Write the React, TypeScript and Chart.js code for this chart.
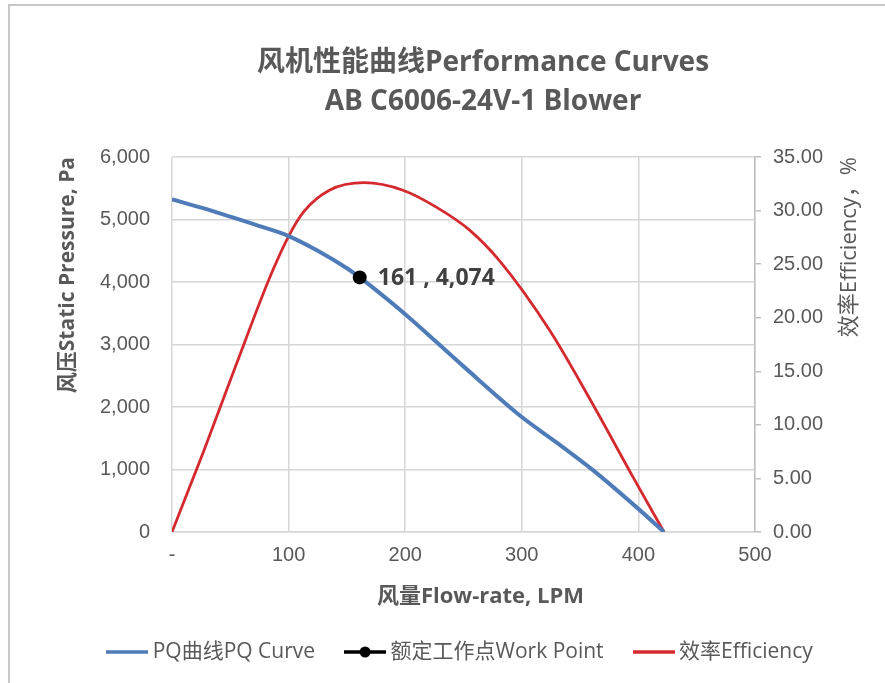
import React, { useEffect, useRef } from 'react';
import { Chart, registerables } from 'chart.js';

Chart.register(...registerables);

// ---- Data ----
const chartTitle = ['风机性能曲线Performance Curves', 'AB C6006-24V-1 Blower'];
const xAxisTitle = '风量Flow-rate, LPM';
const yAxisTitle = '风压Static Pressure, Pa';
const y1AxisTitle = '效率Efficiency，%';
const seriesNames = ['PQ曲线PQ Curve', '额定工作点Work Point', '效率Efficiency'];

const pqFlow = [0, 25, 50, 75, 100, 125, 150, 161, 175, 200, 250, 300, 330, 361, 400, 422];
const pqPressure = [5320, 5190, 5045, 4895, 4735, 4500, 4220, 4074, 3870, 3485, 2650, 1840, 1430, 990, 370, 0];

const effFlow = [0, 27, 55, 84, 100, 113, 135, 165, 198, 227, 255, 281, 324, 361, 396, 422];
const effValues = [0, 7.5, 15.6, 23.8, 27.6, 29.9, 31.9, 32.6, 31.9, 30.3, 28.2, 25.3, 18.8, 11.9, 5.0, 0];

const workFlow = [161];
const workPressure = [4074];

const xMin = 0, xMax = 500, xStep = 100;
const yMin = 0, yMax = 6000, yStep = 1000;
const y1Min = 0, y1Max = 35, y1Step = 5;

// ---- Styles ----
const BLUE = '#4f7cb8';
const RED = '#d42a2f';
const BLACK = '#000000';
const GRAY_TEXT = '#595959';
const GRID = '#d6d6d6';
const TICK_FONT = "'Liberation Sans', Arial, sans-serif";
const TITLE_FONT = "'Open Sans', 'Noto Sans CJK SC', sans-serif";

function makeSymbol(color: string, withDot: boolean, lw: number): HTMLCanvasElement {
  const c = document.createElement('canvas');
  c.width = 42;
  c.height = 16;
  const ctx = c.getContext('2d')!;
  ctx.strokeStyle = color;
  ctx.lineWidth = lw;
  ctx.beginPath();
  ctx.moveTo(0, 8);
  ctx.lineTo(42, 8);
  ctx.stroke();
  if (withDot) {
    ctx.fillStyle = color;
    ctx.beginPath();
    ctx.arc(21, 8, 5.5, 0, Math.PI * 2);
    ctx.fill();
  }
  return c;
}

export default function App() {
  const ref = useRef<HTMLCanvasElement | null>(null);

  useEffect(() => {
    if (!ref.current) return;
    const symbols = [makeSymbol(BLUE, false, 3.5), makeSymbol(BLACK, true, 3.5), makeSymbol(RED, false, 3.5)];

    const framePlugin = {
      id: 'frameAndTexts',
      beforeDraw(chart: any) {
        const ctx = chart.ctx;
        ctx.save();
        ctx.fillStyle = '#ffffff';
        ctx.fillRect(0, 0, chart.width, chart.height);
        ctx.strokeStyle = '#c8c8c8';
        ctx.lineWidth = 2;
        ctx.beginPath();
        ctx.moveTo(9, 683);
        ctx.lineTo(9, 5);
        ctx.lineTo(885, 5);
        ctx.stroke();
        ctx.restore();
      },
      afterDraw(chart: any) {
        const ctx = chart.ctx;
        ctx.save();
        ctx.fillStyle = GRAY_TEXT;
        ctx.textAlign = 'center';
        ctx.textBaseline = 'middle';
        ctx.font = `bold 28px ${TITLE_FONT}`;
        ctx.fillText(chartTitle[0], 483, 63);
        ctx.fillText(chartTitle[1], 483, 102);
        ctx.font = `bold 22px ${TITLE_FONT}`;
        const xs = chart.scales.x;
        ctx.fillText(xAxisTitle, (xs.left + xs.right) / 2 + 17, 597);
        // right axis title, reading bottom-to-top, ending at the plot top
        const ys = chart.scales.y1;
        ctx.save();
        ctx.translate(850, ys.top);
        ctx.rotate(-Math.PI / 2);
        ctx.textAlign = 'right';
        ctx.font = `22px ${TITLE_FONT}`;
        ctx.fillText(y1AxisTitle, 0, 0);
        ctx.restore();
        // data label for work point
        const meta = chart.getDatasetMeta(1);
        const pt = meta.data[0];
        if (pt) {
          ctx.fillStyle = '#404040';
          ctx.textAlign = 'left';
          ctx.font = `bold 23px ${TITLE_FONT}`;
          const label = `${workFlow[0]} , ${workPressure[0].toLocaleString('en-US')}`;
          ctx.fillText(label, pt.x + 18, pt.y + 1);
        }
        ctx.restore();
      },
    };

    const chart = new Chart(ref.current, {
      type: 'line',
      data: {
        datasets: [
          {
            label: seriesNames[0],
            data: pqFlow.map((x, i) => ({ x, y: pqPressure[i] })),
            borderColor: BLUE,
            backgroundColor: BLUE,
            borderWidth: 4,
            pointRadius: 0,
            cubicInterpolationMode: 'monotone',
            yAxisID: 'y',
            order: 1,
          },
          {
            label: seriesNames[1],
            data: workFlow.map((x, i) => ({ x, y: workPressure[i] })),
            borderColor: BLACK,
            backgroundColor: BLACK,
            showLine: false,
            pointRadius: 7,
            pointBorderWidth: 0,
            yAxisID: 'y',
            order: 0,
          },
          {
            label: seriesNames[2],
            data: effFlow.map((x, i) => ({ x, y: effValues[i] })),
            borderColor: RED,
            backgroundColor: RED,
            borderWidth: 2.8,
            pointRadius: 0,
            cubicInterpolationMode: 'monotone',
            yAxisID: 'y1',
            order: 2,
          },
        ],
      } as any,
      options: {
        responsive: false,
        animation: false,
        devicePixelRatio: 1,
        layout: { padding: { left: 40, right: 0, top: 157, bottom: 10.5 } },
        scales: {
          x: {
            type: 'linear',
            position: 'bottom',
            min: xMin,
            max: xMax,
            ticks: {
              stepSize: xStep,
              padding: 11,
              color: GRAY_TEXT,
              font: { family: TICK_FONT, size: 20 },
              callback: (v: any) => (v === 0 ? '-' : String(v)),
            },
            grid: { color: GRID, lineWidth: 1.5, drawTicks: false },
            border: { color: GRID, width: 1.5 },
            afterFit: (s: any) => {
              s.height = 74.5;
            },
          },
          y: {
            type: 'linear',
            position: 'left',
            min: yMin,
            max: yMax,
            ticks: {
              stepSize: yStep,
              padding: 22,
              color: GRAY_TEXT,
              font: { family: TICK_FONT, size: 20 },
              callback: (v: any) => Number(v).toLocaleString('en-US'),
            },
            grid: { color: GRID, lineWidth: 1.5, drawTicks: false },
            border: { display: false },
            title: {
              display: true,
              text: yAxisTitle,
              align: 'end',
              color: GRAY_TEXT,
              font: { family: TITLE_FONT, size: 21, weight: 'bold' },
              padding: { top: 15.4, bottom: 0 },
            },
            afterFit: (s: any) => {
              s.width = 132;
            },
          },
          y1: {
            type: 'linear',
            position: 'right',
            min: y1Min,
            max: y1Max,
            ticks: {
              stepSize: y1Step,
              padding: 12,
              color: GRAY_TEXT,
              font: { family: TICK_FONT, size: 20 },
              callback: (v: any) => Number(v).toFixed(2),
            },
            grid: { drawOnChartArea: false, drawTicks: true, tickLength: 6, color: '#bfbfbf', lineWidth: 1.5 },
            border: { display: true, color: '#bfbfbf', width: 1.5 },
            title: { display: false },
            afterFit: (s: any) => {
              s.width = 130;
            },
          },
        },
        plugins: {
          title: { display: false },
          tooltip: { enabled: false },
          legend: {
            display: true,
            position: 'bottom',
            labels: {
              usePointStyle: true,
              pointStyleWidth: 30,
              boxHeight: 21,
              padding: 35,
              color: GRAY_TEXT,
              font: { family: TITLE_FONT, size: 21 },
              generateLabels: (ch: any) =>
                ch.data.datasets.map((ds: any, i: number) => ({
                  text: ds.label,
                  datasetIndex: i,
                  pointStyle: symbols[i],
                  fillStyle: ds.borderColor,
                  strokeStyle: ds.borderColor,
                  fontColor: GRAY_TEXT,
                  lineWidth: 0,
                  hidden: false,
                })),
            },
          },
        },
      } as any,
      plugins: [framePlugin],
    });

    return () => chart.destroy();
  }, []);

  return (
    <div style={{ position: 'fixed', left: 0, top: 0, width: 885, height: 683, background: '#fff' }}>
      <canvas ref={ref} width={885} height={683} style={{ width: 885, height: 683, display: 'block' }} />
    </div>
  );
}
